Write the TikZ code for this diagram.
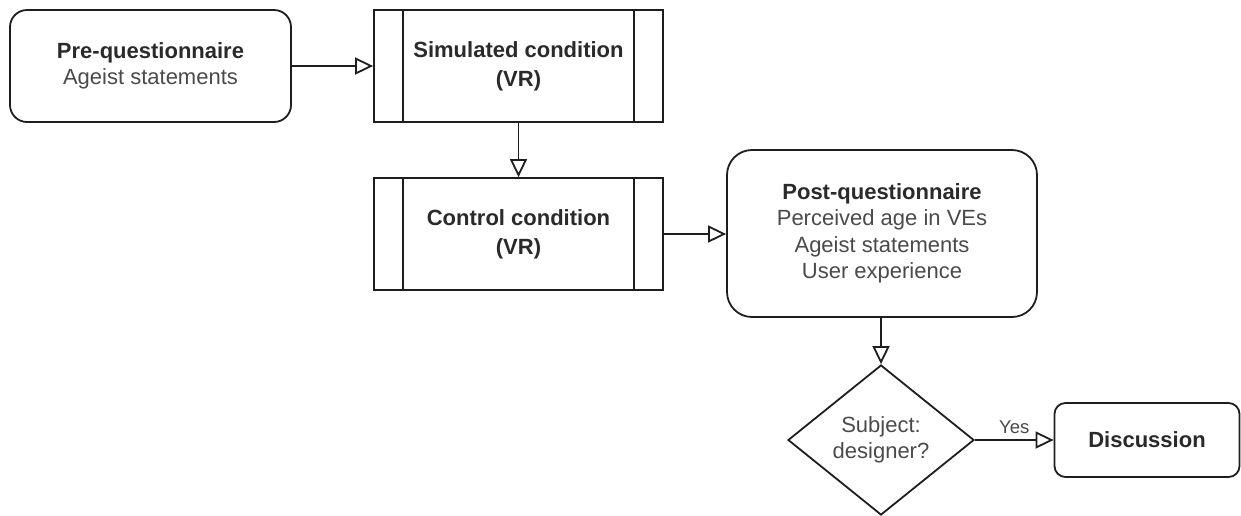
\documentclass[tikz,border=0pt]{standalone}
\usepackage{fontspec}
\setmainfont{Liberation Sans}
\usetikzlibrary{arrows.meta,shapes.geometric}

\definecolor{edge}{HTML}{1E1E1E}
\definecolor{titlegray}{HTML}{2A2A2A}
\definecolor{bodygray}{HTML}{4A4A4A}

\tikzset{
  shape line/.style={draw=edge, line width=1.8pt},
  txt/.style={font=\fontsize{22}{26.4}\selectfont, align=center, text=bodygray, inner sep=0pt},
  roundbox/.style={shape line, txt, rectangle},
  procbox/.style={shape line, txt, rectangle, font=\fontsize{22}{29}\selectfont},
  decision/.style={shape line, txt, diamond, inner sep=0pt},
  flow/.style={draw=edge, line width=1.8pt,
    -{Triangle[open, length=18pt, width=17pt, line width=1.8pt]}}
}
\newcommand{\ttlline}[1]{{\color{titlegray}\bfseries #1}}

\begin{document}
\begin{tikzpicture}[x=1pt, y=-1pt]
  \useasboundingbox (0,0) rectangle (1241,515);

  % first questionnaire
  \node[roundbox, minimum width=281pt, minimum height=112pt, rounded corners=17pt]
    (pre) at (150.5,66) {\ttlline{Pre-questionnaire}\\Ageist statements};

  % the two VR conditions (predefined-process boxes)
  \node[procbox, minimum width=289pt, minimum height=112pt]
    (sim) at (518.5,66) {\ttlline{Simulated condition}\\\ttlline{(VR)}};
  \node[procbox, minimum width=289pt, minimum height=112pt]
    (ctrl) at (518.5,234) {\ttlline{Control condition}\\\ttlline{(VR)}};
  \foreach \b in {sim,ctrl} {
    \draw[shape line] ([xshift=30pt]\b.north west) -- ([xshift=30pt]\b.south west);
    \draw[shape line] ([xshift=-30pt]\b.north east) -- ([xshift=-30pt]\b.south east);
  }

  % final questionnaire
  \node[roundbox, minimum width=310pt, minimum height=167pt, rounded corners=25pt]
    (post) at (882,233.5) {\ttlline{Post-questionnaire}\\Perceived age in VEs\\Ageist statements\\User experience};

  % decision and outcome
  \node[decision, minimum width=186pt, minimum height=150pt]
    (dec) at (881,440) {Subject:\\designer?};
  \node[roundbox, minimum width=185pt, minimum height=74pt, rounded corners=11pt]
    (disc) at (1147,440) {\ttlline{Discussion}};

  % connectors
  \draw[flow] (pre.east) -- (sim.west);
  \draw[flow] (sim.south) -- (ctrl.north);
  \draw[flow] (ctrl.east) -- (ctrl.east -| post.west);
  \draw[flow] (post.south -| dec.north) -- (dec.north);
  \draw[flow] (dec.east) -- node[pos=0.5, above=5pt, txt, font=\fontsize{18.5}{22}\selectfont] {Yes} (disc.west);
\end{tikzpicture}
\end{document}
